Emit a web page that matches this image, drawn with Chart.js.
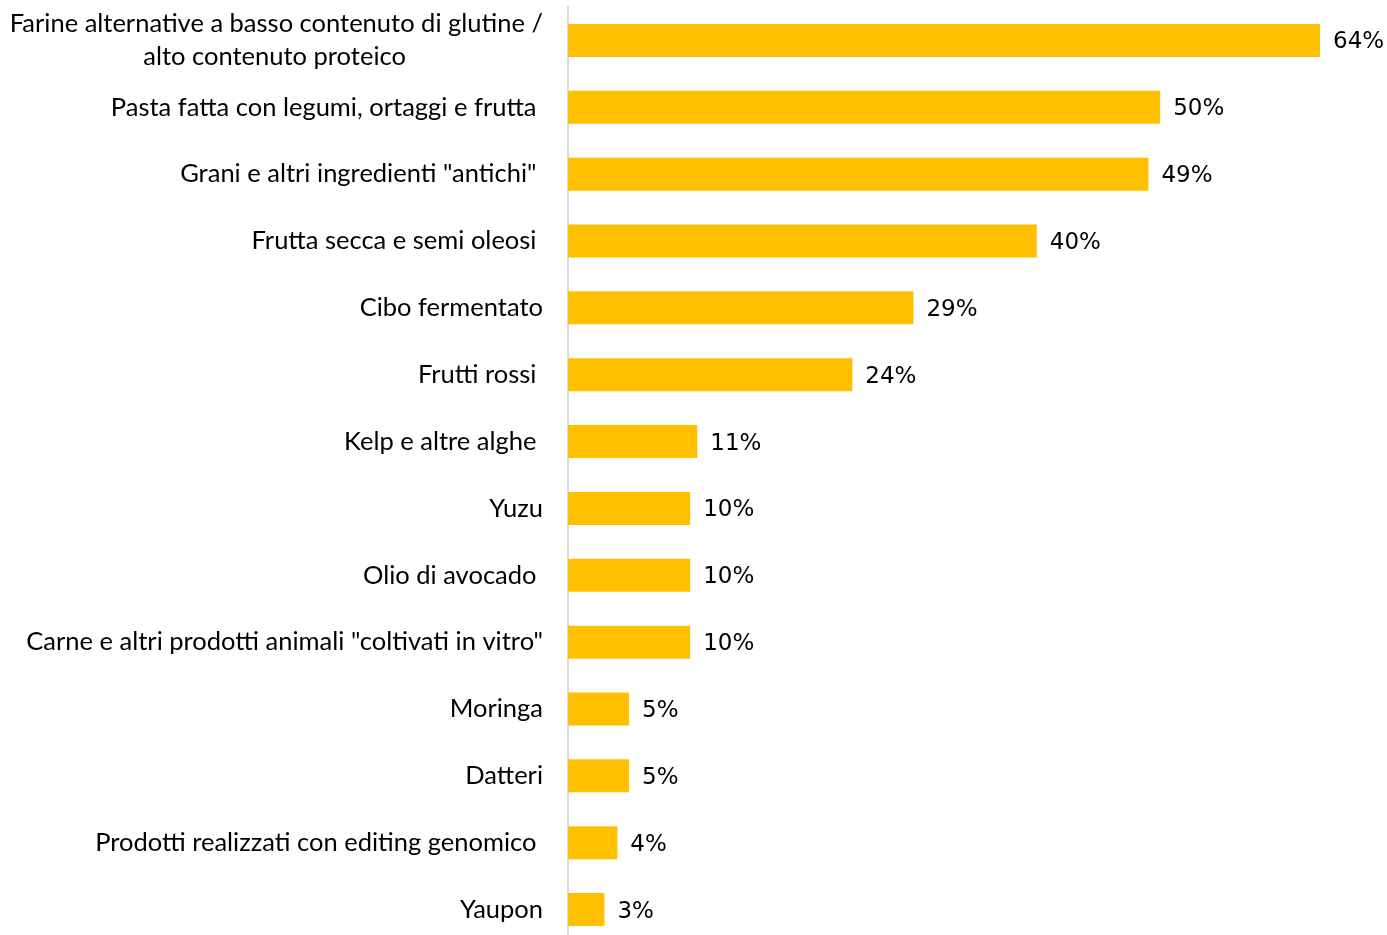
<!DOCTYPE html>
<html>
<head>
<meta charset="utf-8">
<script src="https://cdn.jsdelivr.net/npm/chart.js@4"></script>
<style>
    html, body { margin: 0; padding: 0; background: #fff; overflow: hidden; }
    #wrap { width: 1387px; height: 943px; }
</style>
</head>
<body>
<div id="wrap"><canvas id="chart"></canvas></div>
<script>
const categories = [
    ["Farine alternative a basso contenuto di glutine /", "alto contenuto proteico"],
    "Pasta fatta con legumi, ortaggi e frutta ",
    "Grani e altri ingredienti \"antichi\" ",
    "Frutta secca e semi oleosi ",
    "Cibo fermentato",
    "Frutti rossi ",
    "Kelp e altre alghe ",
    "Yuzu",
    "Olio di avocado ",
    "Carne e altri prodotti animali \"coltivati in vitro\"",
    "Moringa",
    "Datteri",
    "Prodotti realizzati con editing genomico ",
    "Yaupon"
];

// percent values (labels show the rounded value)
const shares = [64.0, 50.4, 49.4, 39.9, 29.4, 24.2, 11.0, 10.4, 10.4, 10.4, 5.2, 5.2, 4.2, 3.1];

const BAR_COLOR = "#FFC000";
const LABEL_FONT = "Lato";
const LABEL_SIZE = 25.5;

// centre the second line of a wrapped label under the first one
const measureCtx = document.createElement("canvas").getContext("2d");

function centredLines(lines) {
    const widest = Math.max(...lines.map(l => measureCtx.measureText(l).width));
    const space = measureCtx.measureText(" ").width;
    return lines.map(l => {
        const gap = (widest - measureCtx.measureText(l).width) / 2;
        return l + " ".repeat(Math.round(gap / space));
    });
}

const valueLabels = {
    id: "valueLabels",
    afterDatasetsDraw(chart) {
        const ctx = chart.ctx;
        const meta = chart.getDatasetMeta(0);
        ctx.save();
        ctx.font = "23px 'DejaVu Sans'";
        ctx.fillStyle = "#000";
        ctx.textAlign = "left";
        ctx.textBaseline = "middle";
        meta.data.forEach((bar, i) => {
            ctx.fillText(Math.round(shares[i]) + "%", bar.x + 13, bar.y + 2);
        });
        ctx.restore();
    }
};

document.fonts.load(LABEL_SIZE + "px " + LABEL_FONT).then(() => {
    measureCtx.font = LABEL_SIZE + "px " + LABEL_FONT;

    new Chart(document.getElementById("chart"), {
        type: "bar",
        data: {
            labels: categories,
            datasets: [{
                data: shares,
                backgroundColor: BAR_COLOR,
                borderWidth: 0,
                barPercentage: 0.494,
                categoryPercentage: 1
            }]
        },
        options: {
            indexAxis: "y",
            responsive: true,
            maintainAspectRatio: false,
            animation: false,
            layout: {
                padding: { top: 7, right: 67, bottom: 0, left: 0 }
            },
            plugins: {
                legend: { display: false },
                tooltip: { enabled: false }
            },
            scales: {
                x: {
                    display: false,
                    min: 0,
                    max: 64
                },
                y: {
                    afterFit(scale) {
                        scale.width = 568;
                        // labels may overhang the plot, as in the original
                        scale.paddingTop = 0;
                        scale.paddingBottom = 0;
                    },
                    grid: { display: false, drawTicks: false },
                    border: { display: true, color: "#d9d9d9", width: 2 },
                    ticks: {
                        color: "#000",
                        padding: 25,
                        autoSkip: false,
                        font: { family: LABEL_FONT, size: LABEL_SIZE, lineHeight: 1.3 },
                        callback(value, index) {
                            const label = categories[index];
                            return Array.isArray(label) ? centredLines(label) : label;
                        }
                    }
                }
            }
        },
        plugins: [valueLabels]
    });
});
</script>
</body>
</html>
